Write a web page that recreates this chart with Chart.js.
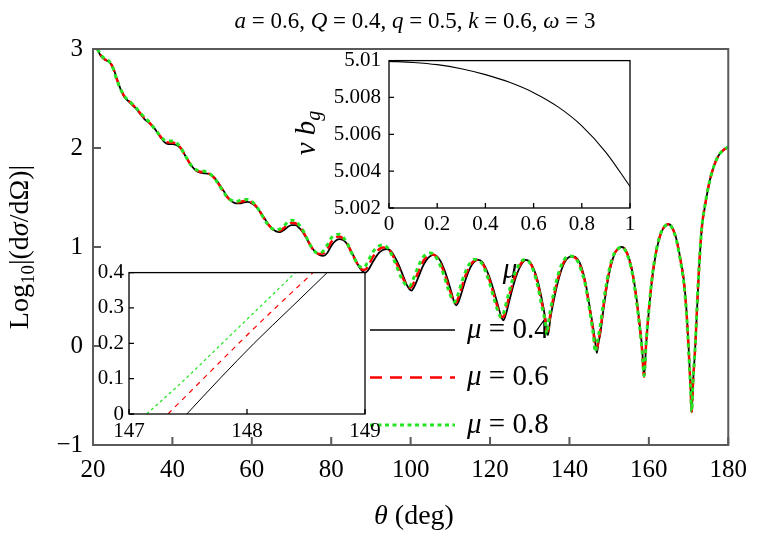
<!DOCTYPE html>
<html>
<head>
<meta charset="utf-8">
<script src="https://cdn.jsdelivr.net/npm/chart.js@4.4.1/dist/chart.umd.min.js"></script>
<style>
html,body{margin:0;padding:0;background:#fff;}
#wrap{position:relative;width:757px;height:537px;}
#wrap canvas{position:absolute;}
</style>
</head>
<body>
<div id="wrap">
<canvas id="mainChart" width="757" height="537" style="left:0;top:0"></canvas>
<canvas id="topInset" width="370" height="210" style="left:280px;top:40px"></canvas>
<canvas id="lowInset" width="330" height="190" style="left:60px;top:255px"></canvas>
</div>
<script>
// scattering angle grid (deg)
const theta = [
  20,21,22,23,24,25,26,27,28,29,
  30,31,32,33,34,35,36,37,38,39,
  40,41,42,43,44,45,46,47,48,49,
  50,51,52,53,54,55,56,57,58,59,
  60,61,62,63,64,65,66,67,68,69,
  70,71,72,73,74,75,76,77,78,79,
  80,81,82,83,84,85,86,87,88,88.5,
  89.2,90.5,92,93,94,95,96,97,98,99,
  99.6,100.2,100.8,102,103,104,105,105.7,106.5,107.5,
  108.5,109.5,110.5,111,111.5,112,113,114,115,116,
  117,118,119,120,121,122,122.8,123.4,124,125,
  126,127,128,129,130,131,132,133,134,134.3,
  134.6,135.2,136,137,138,139,140,141,142,143,
  144,145,146,146.5,146.9,147.3,147.8,148.5,149.5,150.5,
  151.5,152.5,153.1,154,155,156,157,157.6,158.3,158.8,
  159.3,160,161,162,163,164,165,166,167,168,
  168.8,169.5,170,170.5,170.8,171.1,171.7,172.5,173.3,174.3,
  175.4,176.5,177.5,178.8,180
];
// log10 |dsigma/dOmega| for mu = 0.4
const logSigmaMu04 = [
  3.06,3.00,2.93,2.89,2.87,2.82,2.70,2.59,2.51,2.47,
  2.43,2.39,2.34,2.29,2.26,2.22,2.17,2.11,2.06,2.04,
  2.04,2.03,2.00,1.94,1.87,1.81,1.77,1.75,1.745,1.74,
  1.72,1.68,1.62,1.56,1.50,1.46,1.44,1.44,1.45,1.455,
  1.44,1.41,1.36,1.30,1.24,1.19,1.16,1.15,1.17,1.20,
  1.22,1.22,1.19,1.14,1.07,1.00,0.95,0.92,0.91,0.94,
  1.01,1.06,1.08,1.07,1.03,0.96,0.88,0.80,0.75,0.74,
  0.76,0.85,0.94,0.97,0.98,0.96,0.90,0.82,0.72,0.62,
  0.58,0.56,0.59,0.70,0.80,0.87,0.91,0.92,0.91,0.86,
  0.77,0.65,0.51,0.44,0.41,0.44,0.56,0.69,0.79,0.85,
  0.87,0.85,0.78,0.68,0.55,0.41,0.30,0.26,0.32,0.48,
  0.63,0.75,0.83,0.87,0.85,0.78,0.66,0.48,0.26,0.18,
  0.11,0.28,0.45,0.63,0.77,0.86,0.90,0.905,0.88,0.80,
  0.65,0.42,0.18,0.04,-0.07,0.03,0.13,0.35,0.62,0.82,
  0.94,0.99,1.00,0.98,0.89,0.72,0.45,0.25,-0.02,-0.31,
  0.00,0.35,0.73,0.98,1.13,1.21,1.23,1.19,1.07,0.87,
  0.67,0.35,0.00,-0.40,-0.67,-0.40,0.00,0.67,1.17,1.45,
  1.68,1.83,1.92,1.98,2.01
];
// mu = 0.6
const logSigmaMu06 = [
  3.065,3.005,2.935,2.895,2.875,2.815,2.695,2.59,2.515,2.475,
  2.435,2.395,2.345,2.30,2.265,2.22,2.17,2.115,2.07,2.055,
  2.055,2.04,2.005,1.94,1.87,1.81,1.775,1.76,1.755,1.745,
  1.72,1.675,1.615,1.555,1.495,1.465,1.45,1.455,1.465,1.47,
  1.45,1.415,1.36,1.295,1.235,1.19,1.165,1.165,1.19,1.225,
  1.245,1.24,1.205,1.15,1.075,1.00,0.95,0.93,0.935,0.98,
  1.05,1.09,1.105,1.085,1.035,0.955,0.875,0.805,0.77,0.77,
  0.80,0.90,0.975,0.995,0.99,0.95,0.875,0.785,0.69,0.615,
  0.59,0.595,0.64,0.755,0.845,0.90,0.925,0.925,0.90,0.835,
  0.735,0.61,0.49,0.44,0.44,0.485,0.61,0.73,0.815,0.86,
  0.87,0.84,0.76,0.65,0.515,0.38,0.295,0.295,0.37,0.53,
  0.67,0.775,0.845,0.87,0.845,0.765,0.635,0.445,0.24,0.15,
  0.155,0.32,0.49,0.665,0.795,0.875,0.905,0.90,0.87,0.78,
  0.63,0.40,0.15,-0.01,-0.03,0.05,0.16,0.38,0.645,0.835,
  0.945,0.99,1.00,0.975,0.88,0.71,0.435,0.235,-0.04,-0.31,
  0.01,0.36,0.74,0.985,1.135,1.21,1.23,1.185,1.065,0.86,
  0.655,0.335,-0.015,-0.41,-0.665,-0.39,0.01,0.68,1.175,1.455,
  1.68,1.83,1.92,1.98,2.01
];
// mu = 0.8
const logSigmaMu08 = [
  3.07,3.01,2.94,2.90,2.88,2.81,2.69,2.59,2.52,2.48,
  2.44,2.40,2.35,2.31,2.27,2.22,2.17,2.12,2.08,2.07,
  2.07,2.05,2.01,1.94,1.87,1.81,1.78,1.77,1.765,1.75,
  1.72,1.67,1.61,1.55,1.49,1.47,1.46,1.47,1.48,1.48,
  1.46,1.42,1.36,1.29,1.23,1.19,1.17,1.18,1.21,1.25,
  1.27,1.26,1.22,1.16,1.08,1.00,0.95,0.94,0.96,1.02,
  1.09,1.12,1.13,1.10,1.04,0.95,0.87,0.81,0.79,0.80,
  0.85,0.95,1.01,1.02,1.00,0.94,0.85,0.75,0.66,0.61,
  0.60,0.63,0.69,0.81,0.89,0.93,0.94,0.93,0.89,0.81,
  0.70,0.57,0.47,0.445,0.47,0.53,0.66,0.77,0.84,0.875,
  0.87,0.83,0.74,0.62,0.48,0.35,0.29,0.33,0.42,0.58,
  0.71,0.80,0.86,0.875,0.84,0.75,0.61,0.41,0.22,0.12,
  0.20,0.36,0.53,0.70,0.82,0.89,0.91,0.90,0.86,0.76,
  0.62,0.38,0.12,-0.06,0.02,0.10,0.22,0.42,0.67,0.85,
  0.95,0.99,1.00,0.97,0.87,0.70,0.42,0.22,-0.05,-0.30,
  0.02,0.37,0.75,0.99,1.14,1.21,1.23,1.18,1.06,0.85,
  0.64,0.32,-0.03,-0.42,-0.66,-0.38,0.02,0.69,1.18,1.46,
  1.68,1.83,1.92,1.98,2.01
];
const muLabels = ['0.4', '0.6', '0.8'];
const lineColors = ['#000000', '#ff0000', '#22e622'];

// upper inset: v b_g against mu
const muGrid = [0,0.1,0.2,0.3,0.4,0.5,0.6,0.7,0.8,0.9,1];
const vbg = [5.00996,5.00990,5.00978,5.00956,5.00924,5.00882,5.00826,5.00750,5.00646,5.00502,5.00317];

// lower inset: zoom on 147..149 deg, theta where each curve reaches the levels below
const zoomLevels = [0, 0.1, 0.2, 0.3, 0.4];
const zoomThetaMu04 = [147.49, 147.77, 148.06, 148.37, 148.68];
const zoomThetaMu06 = [147.33, 147.63, 147.93, 148.24, 148.56];
const zoomThetaMu08 = [147.15, 147.48, 147.79, 148.10, 148.41];

const FONT = 'Liberation Serif, "Times New Roman", "DejaVu Serif", serif';
Chart.defaults.font.family = FONT;
Chart.defaults.color = '#000';

const pts = (xs, ys) => xs.map((x, i) => ({ x: x, y: ys[i] }));
const minus = v => v < 0 ? '\u2212' + Math.abs(v) : '' + v;

// text with italic / subscript pieces
function drawRich(ctx, parts, x, y, size, opts){
    opts = opts || {};
    ctx.save();
    ctx.translate(x, y);
    if(opts.rotate) ctx.rotate(-Math.PI / 2);
    ctx.textBaseline = 'middle';
    ctx.textAlign = 'left';
    ctx.fillStyle = '#000';
    const fonts = parts.map(p => (p[1] ? 'italic ' : '') + (p[2] ? Math.round(size * 0.68) : size) + 'px ' + FONT);
    const widths = parts.map((p, i) => { ctx.font = fonts[i]; return ctx.measureText(p[0]).width; });
    let cx = opts.left ? 0 : -widths.reduce((a, b) => a + b, 0) / 2;
    parts.forEach((p, i) => {
        ctx.font = fonts[i];
        ctx.fillText(p[0], cx, p[2] ? size * 0.28 : 0);
        cx += widths[i];
    });
    ctx.restore();
}

// box frame with inward ticks on bottom and left
function framePlugin(color, width, len){
    return {
        id: 'frameTicks',
        afterDraw(chart){
            const { ctx, chartArea: a, scales } = chart;
            ctx.save();
            ctx.strokeStyle = color;
            ctx.lineWidth = width;
            ctx.strokeRect(a.left, a.top, a.right - a.left, a.bottom - a.top);
            ctx.beginPath();
            scales.x.ticks.forEach(t => {
                const px = scales.x.getPixelForValue(t.value);
                ctx.moveTo(px, a.bottom); ctx.lineTo(px, a.bottom - len);
            });
            scales.y.ticks.forEach(t => {
                const py = scales.y.getPixelForValue(t.value);
                ctx.moveTo(a.left, py); ctx.lineTo(a.left + len, py);
            });
            ctx.stroke();
            ctx.restore();
        }
    };
}

const whiteArea = {
    id: 'whiteArea',
    beforeDraw(chart){
        const { ctx, chartArea: a } = chart;
        ctx.save();
        ctx.fillStyle = '#fff';
        ctx.fillRect(a.left, a.top, a.right - a.left, a.bottom - a.top);
        ctx.restore();
    }
};

const legendStyles = [
    { width: 1.6, dash: [] },
    { width: 2.5, dash: [12, 8] },
    { width: 3, dash: [4, 3.5] }
];

const mainText = {
    id: 'mainText',
    beforeDatasetsDraw(chart){
        const ctx = chart.ctx;
        drawRich(ctx, [['\u03bc', 1]], 510, 270, 29);
        muLabels.forEach((m, i) => {
            const y = 330 + i * 47.5;
            ctx.save();
            ctx.strokeStyle = lineColors[i];
            ctx.lineWidth = legendStyles[i].width;
            ctx.setLineDash(legendStyles[i].dash);
            ctx.beginPath(); ctx.moveTo(370, y); ctx.lineTo(455, y); ctx.stroke();
            ctx.restore();
            drawRich(ctx, [['\u03bc', 1], [' = ' + m, 0]], 467, y, 29, { left: true });
        });
    },
    afterDraw(chart){
        const ctx = chart.ctx;
        drawRich(ctx, [['a', 1], [' = 0.6, ', 0], ['Q', 1], [' = 0.4, ', 0], ['q', 1], [' = 0.5, ', 0],
                       ['k', 1], [' = 0.6, ', 0], ['\u03c9', 1], [' = 3', 0]], 415, 22, 23);
        drawRich(ctx, [['\u03b8', 1], [' (deg)', 0]], 414, 517, 28);
        drawRich(ctx, [['Log', 0], ['10', 0, 1], ['|(d', 0], ['\u03c3', 1], ['/d\u03a9)|', 0]], 21, 247, 28, { rotate: true });
    }
};

new Chart(document.getElementById('mainChart'), {
    type: 'line',
    data: {
        datasets: [
            { label: 'mu 0.4', data: pts(theta, logSigmaMu04), borderColor: lineColors[0], borderWidth: 1.8, order: 3 },
            { label: 'mu 0.6', data: pts(theta, logSigmaMu06), borderColor: lineColors[1], borderWidth: 2.5, borderDash: [9, 5], order: 2 },
            { label: 'mu 0.8', data: pts(theta, logSigmaMu08), borderColor: lineColors[2], borderWidth: 3, borderDash: [4, 4], order: 1 }
        ]
    },
    options: {
        responsive: false,
        animation: false,
        layout: { padding: { left: 0, top: 49, right: 22, bottom: 0 } },
        elements: { point: { radius: 0 }, line: { cubicInterpolationMode: 'monotone', fill: false } },
        plugins: { legend: { display: false }, tooltip: { enabled: false } },
        scales: {
            x: {
                type: 'linear', min: 20, max: 180,
                grid: { display: false, drawTicks: false }, border: { display: false },
                ticks: { stepSize: 20, padding: 10, maxRotation: 0, autoSkip: false, font: { size: 25 } },
                afterFit: s => { s.height = 92; }
            },
            y: {
                min: -1, max: 3,
                grid: { display: false, drawTicks: false }, border: { display: false },
                ticks: { stepSize: 1, padding: 10, font: { size: 25 }, callback: minus },
                afterFit: s => { s.width = 93; }
            }
        }
    },
    plugins: [mainText, framePlugin('#5a5a5a', 2, 8)]
});

const vbgTitle = {
    id: 'vbgTitle',
    afterDraw(chart){
        drawRich(chart.ctx, [['v', 1], [' ', 0], ['b', 1], ['g', 1, 1]], 27, 93, 29, { rotate: true });
    }
};

new Chart(document.getElementById('topInset'), {
    type: 'line',
    data: { datasets: [{ data: pts(muGrid, vbg), borderColor: '#000', borderWidth: 1.1 }] },
    options: {
        responsive: false,
        animation: false,
        layout: { padding: { left: 0, top: 19, right: 20, bottom: 0 } },
        elements: { point: { radius: 0 }, line: { cubicInterpolationMode: 'monotone' } },
        plugins: { legend: { display: false }, tooltip: { enabled: false } },
        scales: {
            x: {
                type: 'linear', min: 0, max: 1,
                grid: { display: false, drawTicks: false }, border: { display: false },
                ticks: { stepSize: 0.2, padding: 4, maxRotation: 0, autoSkip: false, font: { size: 21 }, callback: v => '' + (+v.toFixed(1)) },
                afterFit: s => { s.height = 42; }
            },
            y: {
                min: 5.002, max: 5.01,
                grid: { display: false, drawTicks: false }, border: { display: false },
                ticks: { stepSize: 0.002, padding: 8, font: { size: 21 }, callback: v => '' + (+v.toFixed(3)) },
                afterFit: s => { s.width = 109; }
            }
        }
    },
    plugins: [whiteArea, framePlugin('#000', 1.3, 5), vbgTitle]
});

new Chart(document.getElementById('lowInset'), {
    type: 'line',
    data: {
        datasets: [
            { data: pts(zoomThetaMu04, zoomLevels), borderColor: lineColors[0], borderWidth: 1, order: 3 },
            { data: pts(zoomThetaMu06, zoomLevels), borderColor: lineColors[1], borderWidth: 1.2, borderDash: [5, 5], order: 2 },
            { data: pts(zoomThetaMu08, zoomLevels), borderColor: lineColors[2], borderWidth: 1.2, borderDash: [3, 3], order: 1 }
        ]
    },
    options: {
        responsive: false,
        animation: false,
        layout: { padding: { left: 0, top: 14, right: 25, bottom: 0 } },
        elements: { point: { radius: 0 }, line: { cubicInterpolationMode: 'monotone' } },
        plugins: { legend: { display: false }, tooltip: { enabled: false } },
        scales: {
            x: {
                type: 'linear', min: 147, max: 149,
                grid: { display: false, drawTicks: false }, border: { display: false },
                ticks: { stepSize: 1, padding: 5, maxRotation: 0, autoSkip: false, font: { size: 21 } },
                afterFit: s => { s.height = 31; }
            },
            y: {
                min: 0, max: 0.4,
                grid: { display: false, drawTicks: false }, border: { display: false },
                ticks: { stepSize: 0.1, padding: 5, font: { size: 21 }, callback: v => '' + (+v.toFixed(1)) },
                afterFit: s => { s.width = 69; }
            }
        }
    },
    plugins: [whiteArea, framePlugin('#000', 1.3, 5)]
});
</script>
</body>
</html>
